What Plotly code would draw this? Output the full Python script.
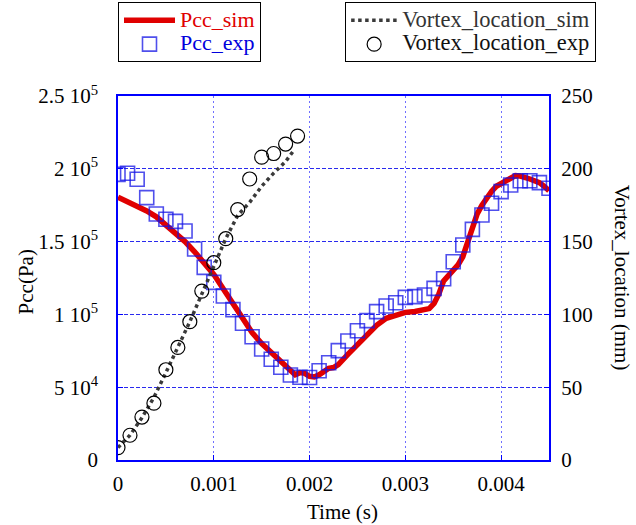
import plotly.graph_objects as go

# ---- data ----
# Pcc simulation (time in s, pressure in Pa)
pcc_sim_t = [0, 0.0001, 0.0002, 0.0003, 0.0004, 0.0005, 0.0006, 0.0007, 0.0008, 0.0009,
             0.0010, 0.0011, 0.0012, 0.0013, 0.0014, 0.0015, 0.0016, 0.0017, 0.0018, 0.00185,
             0.0019, 0.00195, 0.0020, 0.00205, 0.0021, 0.00215, 0.0022, 0.00225, 0.0023, 0.0024,
             0.0025, 0.0026, 0.0027, 0.0028, 0.0029, 0.0030, 0.0031, 0.0032, 0.00325, 0.0033,
             0.00335, 0.0034, 0.0035, 0.00355, 0.0036, 0.00365, 0.0037, 0.00375, 0.0038, 0.00385,
             0.0039, 0.00395, 0.0040, 0.00405, 0.0041, 0.00415, 0.0042, 0.0043, 0.0044, 0.00445, 0.0045]
pcc_sim_p = [180500, 177500, 174500, 171000, 167000, 161500, 156000, 150000, 143000, 135000,
             127500, 117500, 107500, 96500, 87500, 80000, 73500, 67500, 61000, 58500,
             60000, 59500, 57500, 57000, 58500, 61000, 63000, 63500, 65500, 72500,
             79500, 86000, 92500, 97300, 99800, 101400, 102000, 102800, 104000, 107500,
             114000, 123000, 131000, 134000, 139600, 150000, 160000, 169000, 175000, 180000,
             184500, 188000, 189500, 191200, 193500, 195300, 195000, 193000, 190500, 188000, 185000]

# Pcc experiment
pcc_exp_t = [i * 0.0001 for i in range(46)]
pcc_exp_p = [196200, 196900, 192800, 180200, 169000, 165300, 163900, 157300, 144900, 132300,
             122000, 112600, 103300, 93900, 84700, 76200, 69200, 63700, 58400, 56800,
             56700, 61300, 66800, 75100, 81700, 88800, 95700, 101900, 105800, 108000,
             111700, 112200, 113300, 117900, 124500, 136200, 147700, 158400, 168300, 176300,
             184300, 188900, 191800, 191800, 190500, 186600]

# Vortex location simulation (mm)
vort_sim_t = [0, 0.000125, 0.00025, 0.000375, 0.0005, 0.000625, 0.00075, 0.000875, 0.0010,
              0.001125, 0.00125, 0.001375, 0.0015, 0.001625, 0.00175, 0.00184]
vort_sim_v = [8.5, 17, 29, 43, 60, 77, 95, 114, 133, 152, 168, 177, 188, 197, 205, 213]

# Vortex location experiment (mm)
vort_exp_t = [0, 0.000125, 0.00025, 0.000375, 0.0005, 0.000625, 0.00075, 0.000875, 0.0010,
              0.001125, 0.00125, 0.001375, 0.0015, 0.001625, 0.00175, 0.001875]
vort_exp_v = [8.5, 17, 29.5, 39, 62, 77.3, 95, 116, 135.5, 152, 172, 193, 208, 210.5, 217, 222.5]

left_tickvals = [0, 50000, 100000, 150000, 200000, 250000]
left_ticktext = ["0", "5 10<sup>4</sup>", "1 10<sup>5</sup>", "1.5 10<sup>5</sup>",
                 "2 10<sup>5</sup>", "2.5 10<sup>5</sup>"]
x_tickvals = [0, 0.001, 0.002, 0.003, 0.004]
x_ticktext = ["0", "0.001", "0.002", "0.003", "0.004"]
right_tickvals = [0, 50, 100, 150, 200, 250]

FONT = "Liberation Serif"
BLUE = "#0000ff"


def legend_name(text, color, size):
    return f"<span style='font-size:{size}px;color:{color}'>{text}</span>"


fig = go.Figure()
fig.add_trace(go.Scatter(
    x=pcc_sim_t, y=pcc_sim_p, mode="lines",
    line=dict(color="#e00000", width=5.5),
    name=legend_name("Pcc_sim", "#e00000", 22), legend="legend"))
fig.add_trace(go.Scatter(
    x=pcc_exp_t, y=pcc_exp_p, mode="markers",
    marker=dict(symbol="square-open", size=14, color="rgba(20,20,230,0.75)",
                line=dict(width=1.6)),
    name=legend_name("Pcc_exp", "#0000dd", 22), legend="legend"))
fig.add_trace(go.Scatter(
    x=vort_sim_t, y=vort_sim_v, mode="lines", yaxis="y2",
    line=dict(color="#3a3a3a", width=3.5, dash="dot"),
    name=legend_name("Vortex_location_sim", "#333333", 22.5), legend="legend2"))
fig.add_trace(go.Scatter(
    x=vort_exp_t, y=vort_exp_v, mode="markers", yaxis="y2",
    marker=dict(symbol="circle-open", size=14, color="black", line=dict(width=1.2)),
    name=legend_name("Vortex_location_exp", "#111111", 22.5), legend="legend2"))

axis_common = dict(
    showline=True, linecolor=BLUE,
    ticks="inside", ticklen=5, tickcolor=BLUE,
    tickfont=dict(family=FONT, size=21, color="black"),
    zeroline=False,
)

fig.update_layout(
    width=636, height=525,
    margin=dict(l=118, r=87, t=96, b=65, autoexpand=False),
    paper_bgcolor="white", plot_bgcolor="white",
    font=dict(family=FONT, size=20, color="black"),
    xaxis=dict(range=[0, 0.0045], tickvals=x_tickvals, ticktext=x_ticktext,
               mirror=True, showgrid=True, gridcolor="#6f6fff", gridwidth=1.3,
               griddash="2px,3px", ticklabelstandoff=4, linewidth=1.5, **axis_common),
    yaxis=dict(range=[0, 250000], tickvals=left_tickvals, ticktext=left_ticktext,
               showgrid=True, gridcolor="#2a2aee", gridwidth=1.2, griddash="4px,2px",
               ticklabelstandoff=14, linewidth=1.5, **axis_common),
    yaxis2=dict(range=[0, 250], tickvals=right_tickvals, overlaying="y", side="right",
                showgrid=False, ticklabelstandoff=6, linewidth=2, **axis_common),
    legend=dict(x=0.0, y=1.257, xanchor="left", yanchor="top",
                bordercolor="black", borderwidth=1, bgcolor="white",
                font=dict(family=FONT, size=16), itemwidth=51, tracegroupgap=0),
    legend2=dict(x=0.527, y=1.257, xanchor="left", yanchor="top",
                 bordercolor="black", borderwidth=1, bgcolor="white",
                 font=dict(family=FONT, size=16), itemwidth=46, tracegroupgap=0),
    annotations=[
        dict(text="Pcc(Pa)", textangle=-90, x=-0.214, y=0.49, xref="paper", yref="paper",
             xanchor="center", yanchor="middle", showarrow=False,
             font=dict(family=FONT, size=21)),
        dict(text="Vortex_location (mm)", textangle=90, x=1.17, y=0.5,
             xref="paper", yref="paper", xanchor="center", yanchor="middle",
             showarrow=False, font=dict(family=FONT, size=21)),
        dict(text="Time (s)", x=0.522, y=-0.142, xref="paper", yref="paper",
             xanchor="center", yanchor="middle", showarrow=False,
             font=dict(family=FONT, size=21)),
    ],
)

fig.write_html("out.html")
